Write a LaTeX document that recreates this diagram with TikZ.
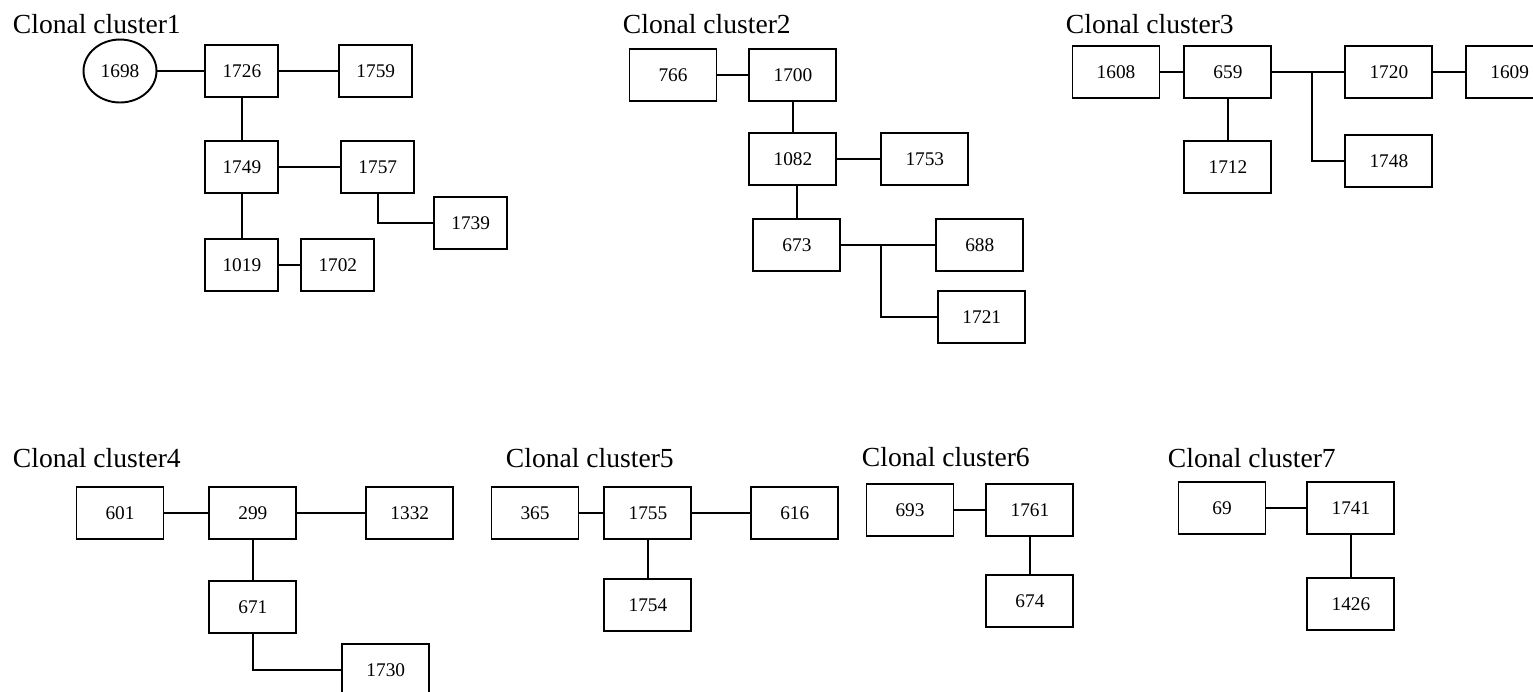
\documentclass[tikz,border=0pt]{standalone}
\usepackage{fontspec}
\setmainfont{Liberation Serif}
\usetikzlibrary{positioning}
\usetikzlibrary{shapes,calc}
\tikzset{clone node/.style={rectangle,draw,minimum width=1.74cm,minimum height=1.04cm,inner sep=0pt,font=\fontsize{11}{13}\selectfont},
	narrow/.style={minimum width=1.46cm},
	title node/.style={anchor=base west,inner sep=0pt,font=\fontsize{15.7}{18}\selectfont},}

\begin{document}
\begin{tikzpicture}[x=0.02cm, y=0.02cm, line width=1.1pt]
	\useasboundingbox (0,0) rectangle (1533,-691);
	% cluster 1
	\node[title node] (t1) at (12,-33) {Clonal cluster1};
	\node[clone node, ellipse, minimum width=1.46cm, minimum height=1.26cm] (c1698) at (120,-71) {1698};
	\node[clone node, narrow] (c1726) [right = 0.94cm of c1698] {1726};
	\node[clone node, narrow] (c1759) [right = 1.18cm of c1726] {1759};
	\node[clone node, narrow] (c1749) [below = 0.84cm of c1726] {1749};
	\node[clone node, narrow] (c1757) [right = 1.22cm of c1749] {1757};
	\node[clone node, narrow] (c1739) [below right = 0.04cm and 0.36cm of c1757] {1739};
	\node[clone node, narrow] (c1019) [below = 0.88cm of c1749] {1019};
	\node[clone node, narrow] (c1702) [right = 0.42cm of c1019] {1702};

	\path[draw]
	(c1698) -- (c1726)
	(c1726) -- (c1759)
	(c1726) -- (c1749)
	(c1749) -- (c1757)
	(c1757.south) |- (c1739.west)
	(c1749) -- (c1019)
	(c1019) -- (c1702);

	% cluster 2
	\node[title node] (t2) at (622,-33) {Clonal cluster2};
	\node[clone node] (c766) at (673,-75) {766};
	\node[clone node] (c1700) [right = 0.62cm of c766] {1700};
	\node[clone node] (c1082) [below = 0.60cm of c1700] {1082};
	\node[clone node] (c1753) [right = 0.86cm of c1082] {1753};
	\node[clone node] (c673) [below = 0.64cm of c1082, xshift=0.08cm] {673};
	\node[clone node] (c688) [right = 1.88cm of c673] {688};
	\node[clone node] (c1721) [below = 0.36cm of c688, xshift=0.04cm] {1721};
	\coordinate (j2) at ($(c673.east)+(0.8cm,0)$);

	\path[draw]
	(c766) -- (c1700)
	(c1700) -- (c1082)
	(c1082) -- (c1753)
	(c673.north) -- (c673.north |- c1082.south)
	(c673) -- (c688)
	(j2) |- (c1721.west);

	% cluster 3
	\node[title node] (t3) at (1065,-33) {Clonal cluster3};
	\node[clone node] (c1608) at (1116,-72) {1608};
	\node[clone node] (c659) [right = 0.46cm of c1608] {659};
	\node[clone node] (c1720) [right = 1.44cm of c659] {1720};
	\node[clone node] (c1609) [right = 0.64cm of c1720] {1609};
	\node[clone node] (c1712) [below = 0.82cm of c659] {1712};
	\node[clone node] (c1748) [below = 0.70cm of c1720] {1748};
	\coordinate (j3) at ($(c659.east)+(0.8cm,0)$);

	\path[draw]
	(c1608) -- (c659)
	(c659) -- (c1720)
	(c1720) -- (c1609)
	(c659) -- (c1712)
	(j3) |- (c1748.west);

	% cluster 4
	\node[title node] (t4) at (12,-467) {Clonal cluster4};
	\node[clone node] (c601) at (120,-513) {601};
	\node[clone node] (c299) [right = 0.88cm of c601] {299};
	\node[clone node] (c1332) [right = 1.36cm of c299] {1332};
	\node[clone node] (c671) [below = 0.80cm of c299] {671};
	\node[clone node] (c1730) [below right = 0.18cm and 0.88cm of c671] {1730};

	\path[draw]
	(c601) -- (c299)
	(c299) -- (c1332)
	(c299) -- (c671)
	(c671.south) |- (c1730.west);

	% cluster 5
	\node[title node] (t5) at (505,-467) {Clonal cluster5};
	\node[clone node] (c365) at (535,-513) {365};
	\node[clone node] (c1755) [right = 0.48cm of c365] {1755};
	\node[clone node] (c616) [right = 1.16cm of c1755] {616};
	\node[clone node] (c1754) [below = 0.76cm of c1755] {1754};

	\path[draw]
	(c365) -- (c1755)
	(c1755) -- (c616)
	(c1755) -- (c1754);

	% cluster 6
	\node[title node] (t6) at (861,-466) {Clonal cluster6};
	\node[clone node] (c693) at (910,-510) {693};
	\node[clone node] (c1761) [right = 0.62cm of c693] {1761};
	\node[clone node] (c674) [below = 0.74cm of c1761] {674};

	\path[draw]
	(c693) -- (c1761)
	(c1761) -- (c674);

	% cluster 7
	\node[title node] (t7) at (1167,-467) {Clonal cluster7};
	\node[clone node] (c69) at (1222,-508) {69};
	\node[clone node] (c1741) [right = 0.80cm of c69] {1741};
	\node[clone node] (c1426) [below = 0.84cm of c1741] {1426};

	\path[draw]
	(c69) -- (c1741)
	(c1741) -- (c1426);
\end{tikzpicture}
\end{document}
